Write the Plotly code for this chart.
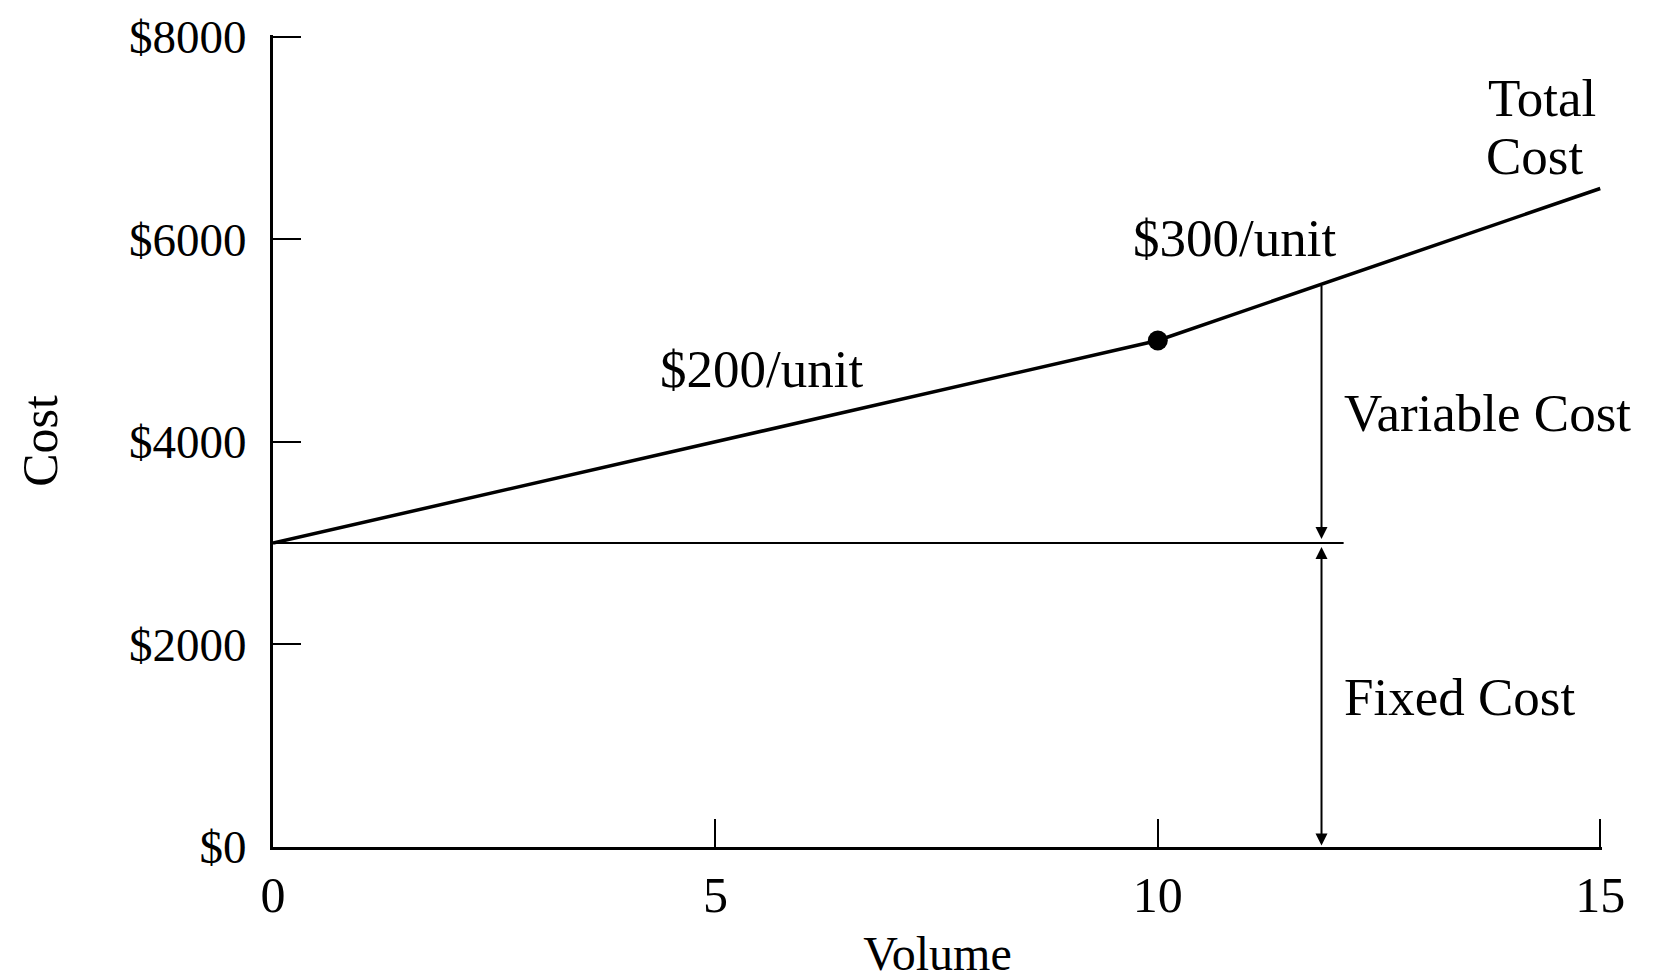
import plotly.graph_objects as go

# ---- data ----
volume_pts = [0, 10, 15]
total_cost = [3000, 5000, 6500]
fixed_cost_level = 3000
fixed_line_x = [0, 12.1]
break_volume = [10]
break_cost = [5000]
marker_volume = 11.85
marker_total = 5555
x_tickvals = [0, 5, 10, 15]
x_ticktext = ["0", "5", "10", "15"]
y_tickvals = [0, 2000, 4000, 6000, 8000]
y_ticktext = ["$0", "$2000", "$4000", "$6000", "$8000"]

FONT = "Liberation Serif"
fig = go.Figure()

fig.add_trace(go.Scatter(x=volume_pts, y=total_cost, mode="lines",
                         line=dict(color="black", width=3.5), showlegend=False,
                         hoverinfo="skip"))
fig.add_trace(go.Scatter(x=fixed_line_x, y=[fixed_cost_level] * 2, mode="lines",
                         line=dict(color="black", width=2), showlegend=False,
                         hoverinfo="skip"))
fig.add_trace(go.Scatter(x=break_volume, y=break_cost, mode="markers",
                         marker=dict(color="black", size=20), showlegend=False,
                         hoverinfo="skip"))

# variable cost arrow (down to fixed cost line)
fig.add_annotation(x=marker_volume, y=fixed_cost_level + 40, ax=marker_volume, ay=marker_total,
                   xref="x", yref="y", axref="x", ayref="y", text="", showarrow=True,
                   arrowhead=2, arrowsize=1.2, arrowwidth=2, arrowcolor="black", standoff=0)
# fixed cost arrow (both ends)
fig.add_annotation(x=marker_volume, y=fixed_cost_level - 40, ax=marker_volume, ay=0,
                   xref="x", yref="y", axref="x", ayref="y", text="", showarrow=True,
                   arrowhead=2, startarrowhead=2, arrowside="end+start", arrowsize=1.2,
                   startarrowsize=1.2, arrowwidth=2, arrowcolor="black", standoff=0,
                   startstandoff=0)

labels = [
    (13.71, 7390, "Total", "left"),
    (13.69, 6820, "Cost", "left"),
    (10.87, 6010, "$300/unit", "center"),
    (5.52, 4720, "$200/unit", "center"),
    (12.08, 4280, "Variable Cost", "left"),
    (12.08, 1480, "Fixed Cost", "left"),
]
for x, y, t, xa in labels:
    fig.add_annotation(x=x, y=y, xref="x", yref="y", text=t, showarrow=False,
                       xanchor=xa, yanchor="middle", align="left",
                       font=dict(family=FONT, size=53, color="black"))

# page has an 8px body margin, so the figure is offset by 8px
fig.update_layout(
    width=1670, height=972,
    margin=dict(l=265, r=76, t=27, b=133),
    paper_bgcolor="white", plot_bgcolor="white",
    font=dict(family=FONT, size=48, color="black"),
    xaxis=dict(range=[0, 15.02], tickvals=x_tickvals, ticktext=x_ticktext,
               ticks="inside", ticklen=28, tickwidth=2, tickcolor="black",
               showline=True, linewidth=3, linecolor="black", showgrid=False,
               zeroline=False, ticklabelstandoff=2, automargin=False,
               ticklabeloverflow="allow", tickfont=dict(size=50),
               title=dict(text="Volume", standoff=18, font=dict(size=48))),
    yaxis=dict(range=[0, 8015], tickvals=y_tickvals, ticktext=y_ticktext,
               ticks="inside", ticklen=28, tickwidth=2, tickcolor="black",
               showline=True, linewidth=3, linecolor="black", showgrid=False,
               zeroline=False, ticklabelstandoff=14, automargin=False,
               ticklabeloverflow="allow", tickfont=dict(size=47),
               title=dict(text="Cost", standoff=56, font=dict(size=50))),
)

fig.write_html("out.html")
